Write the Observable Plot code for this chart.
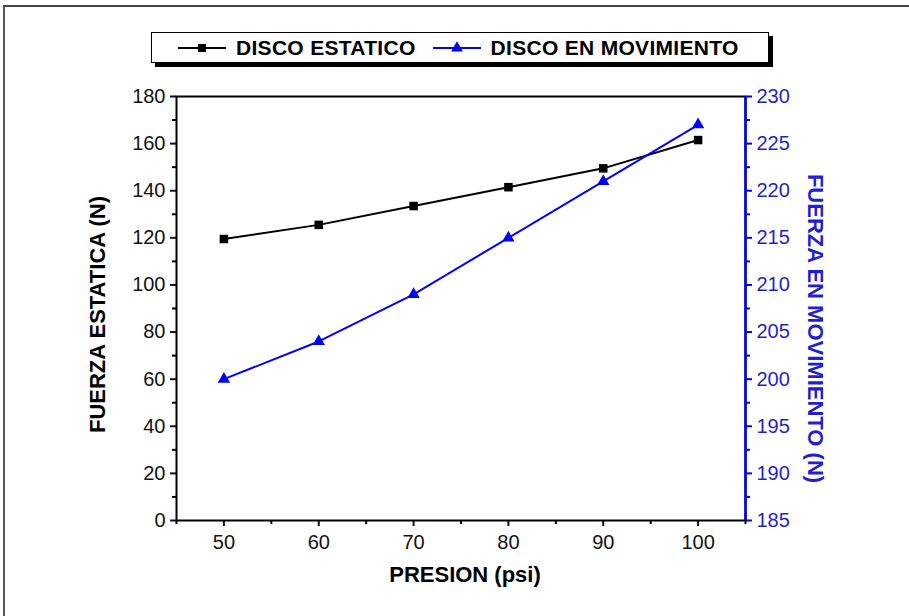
<!DOCTYPE html>
<html>
<head>
<meta charset="utf-8">
<script src="https://cdn.jsdelivr.net/npm/d3@7"></script>
<script src="https://cdn.jsdelivr.net/npm/@observablehq/plot@0.6"></script>
<style>
  html, body { margin: 0; padding: 0; background: #fff; }
  #wrap { position: relative; width: 909px; height: 616px; overflow: hidden; font-family: "Liberation Sans", Arial, sans-serif; }
  #border { position: absolute; left: 3px; top: 5px; right: -10px; bottom: -10px; border-top: 2px solid #444; border-left: 2px solid #555; }
  #legend { position: absolute; left: 151px; top: 32px; width: 616px; height: 29px; border: 1.5px solid #000; background: #fff;
            box-shadow: 4px 4px 0 #000; display: flex; align-items: center; font-weight: bold; font-size: 21px; letter-spacing: 0.3px; color: #000; }
  #legend .item { display: flex; align-items: center; }
  #legend svg { display: block; }
  #chart { position: absolute; left: 0; top: 0; }
</style>
</head>
<body>
<div id="wrap">
  <div id="border"></div>
  <div id="chart"></div>
  <div id="legend"></div>
</div>
<script>
// ---- data ----
const presion = [50, 60, 70, 80, 90, 100];
const fuerzaEstatica = [119.5, 125.5, 133.5, 141.5, 149.5, 161.5];
const fuerzaMovimiento = [200, 204, 209, 215, 221, 227];

const seriesNames = ["DISCO ESTATICO", "DISCO EN MOVIMIENTO"];

const xTicks = [50, 60, 70, 80, 90, 100];
const xMinorTicks = [45, 55, 65, 75, 85, 95, 105];
const yLeftTicks = [0, 20, 40, 60, 80, 100, 120, 140, 160, 180];
const yLeftMinor = [10, 30, 50, 70, 90, 110, 130, 150, 170];
const yRightTicks = [185, 190, 195, 200, 205, 210, 215, 220, 225, 230];
const yRightMinor = [187.5, 192.5, 197.5, 202.5, 207.5, 212.5, 217.5, 222.5, 227.5];

const xDomain = [45, 105];
const yLeftDomain = [0, 180];
const yRightDomain = [185, 230];

// ---- helpers ----
const k = (yLeftDomain[1] - yLeftDomain[0]) / (yRightDomain[1] - yRightDomain[0]);
const toLeft = v => (v - yRightDomain[0]) * k + yLeftDomain[0];
const fromLeft = v => (v - yLeftDomain[0]) / k + yRightDomain[0];

const BLUE = "#0000ff";
const BLUE_TXT = "#1f1fd6";

const staticData = presion.map((p, i) => ({x: p, y: fuerzaEstatica[i]}));
const movingData = presion.map((p, i) => ({x: p, y: toLeft(fuerzaMovimiento[i])}));

const chart = Plot.plot({
  width: 909,
  height: 616,
  marginLeft: 176,
  marginRight: 164,
  marginTop: 96,
  marginBottom: 96,
  style: {fontFamily: "'Liberation Sans', Arial, sans-serif", background: "transparent", overflow: "visible"},
  x: {domain: xDomain},
  y: {domain: yLeftDomain},
  marks: [
    // bottom axis
    Plot.axisX({ticks: xTicks, tickSize: 6, tickPadding: 8, fontSize: 20, strokeWidth: 2, label: null, color: "#111"}),
    Plot.axisX({ticks: xMinorTicks, tickSize: 4, strokeWidth: 2, text: null, label: null}),
    // left axis
    Plot.axisY({ticks: yLeftTicks, tickSize: 6, tickPadding: 5, fontSize: 20, strokeWidth: 2, label: null, color: "#111"}),
    Plot.axisY({ticks: yLeftMinor, tickSize: 4, strokeWidth: 2, text: null, label: null}),
    // right axis (second scale)
    Plot.axisY({anchor: "right", ticks: yRightTicks.map(toLeft), tickFormat: d => String(Math.round(fromLeft(d) * 10) / 10),
      tickSize: 6, tickPadding: 5, fontSize: 20, strokeWidth: 2, label: null, color: BLUE_TXT, stroke: BLUE}),
    Plot.axisY({anchor: "right", ticks: yRightMinor.map(toLeft), tickSize: 4, strokeWidth: 2, text: null, label: null, stroke: BLUE}),
    // frame
    Plot.frame({stroke: "#000", strokeWidth: 2}),
    Plot.ruleX([xDomain[1]], {stroke: BLUE, strokeWidth: 2.5}),
    // axis titles
    Plot.text(["PRESION (psi)"], {frameAnchor: "bottom", textAnchor: "middle", dx: 4, dy: 61, fontSize: 22, fontWeight: "bold", fill: "#000"}),
    Plot.text(["FUERZA ESTATICA (N)"], {frameAnchor: "left", textAnchor: "middle", dx: -79, dy: 6, rotate: -90, fontSize: 22, fontWeight: "bold", fill: "#000", letterSpacing: "0.8px"}),
    Plot.text(["FUERZA EN MOVIMIENTO (N)"], {frameAnchor: "right", textAnchor: "middle", dx: 70, dy: 20, rotate: 90, fontSize: 22, fontWeight: "bold", fill: BLUE_TXT, letterSpacing: "1.2px"}),
    // series
    Plot.line(staticData, {x: "x", y: "y", stroke: "#000", strokeWidth: 2}),
    Plot.dot(staticData, {x: "x", y: "y", symbol: "square", r: 4.8, fill: "#000", stroke: "none"}),
    Plot.line(movingData, {x: "x", y: "y", stroke: BLUE, strokeWidth: 2}),
    Plot.dot(movingData, {x: "x", y: "y", symbol: "triangle", r: 4.6, fill: BLUE, stroke: "none"})
  ]
});
document.getElementById("chart").appendChild(chart);

// ---- legend ----
const legend = document.getElementById("legend");
function swatch(color, symbol) {
  const ns = "http://www.w3.org/2000/svg";
  const s = document.createElementNS(ns, "svg");
  s.setAttribute("width", 50); s.setAttribute("height", 16);
  const l = document.createElementNS(ns, "line");
  l.setAttribute("x1", 1); l.setAttribute("x2", 49); l.setAttribute("y1", 8); l.setAttribute("y2", 8);
  l.setAttribute("stroke", color); l.setAttribute("stroke-width", 2);
  s.appendChild(l);
  const p = document.createElementNS(ns, "path");
  p.setAttribute("d", d3.symbol(symbol, symbol === d3.symbolSquare ? 64 : 60)());
  p.setAttribute("transform", "translate(25,8)");
  p.setAttribute("fill", color);
  s.appendChild(p);
  return s;
}
const items = [
  {name: seriesNames[0], color: "#000", sym: d3.symbolSquare, ml: 25, gap: 9},
  {name: seriesNames[1], color: BLUE, sym: d3.symbolTriangle, ml: 16, gap: 9}
];
for (const it of items) {
  const d = document.createElement("div");
  d.className = "item";
  d.style.marginLeft = it.ml + "px";
  const sw = swatch(it.color, it.sym);
  sw.style.marginRight = it.gap + "px";
  d.appendChild(sw);
  const t = document.createElement("span");
  t.textContent = it.name;
  d.appendChild(t);
  legend.appendChild(d);
}
</script>
</body>
</html>
